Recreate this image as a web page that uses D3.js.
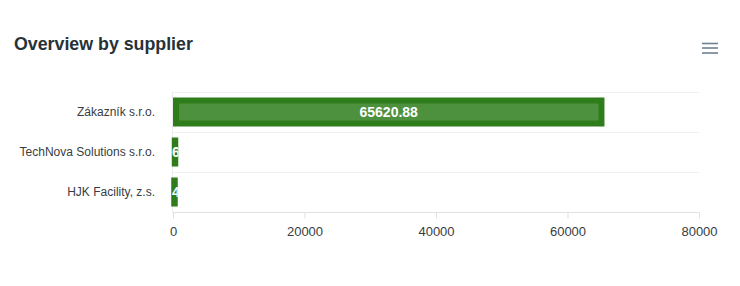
<!DOCTYPE html>
<html>
<head>
<meta charset="utf-8">
<script src="https://cdn.jsdelivr.net/npm/d3@7"></script>
<style>
  body { margin: 0; background: #fff; }
  text { font-family: "Liberation Sans", Arial, Helvetica, sans-serif; }
</style>
</head>
<body>
<svg id="chart" width="740" height="286"></svg>
<script>
var suppliers = ['Zákazník s.r.o.', 'TechNova Solutions s.r.o.', 'HJK Facility, z.s.'];
var amounts = [65620.88, 612.40, 455.00];
var tickValues = [0, 20000, 40000, 60000, 80000];

var width = 740,
    height = 286,
    margin = { top: 92, right: 41, bottom: 74, left: 173 };

var svg = d3.select('#chart');

var x = d3.scaleLinear()
  .domain([0, 80000])
  .range([margin.left, width - margin.right]);

var y = d3.scaleBand()
  .domain(suppliers)
  .range([margin.top, height - margin.bottom])
  .paddingInner(0.275)
  .paddingOuter(0.1375);

var step = y.step();
var border = 6;

// title + menu icon
svg.append('text')
  .attr('x', 14)
  .attr('y', 50)
  .attr('font-size', 17.8)
  .attr('font-weight', 'bold')
  .attr('fill', '#263238')
  .text('Overview by supplier');

svg.selectAll('line.menu')
  .data([43.5, 48, 53])
  .enter()
  .append('line')
  .attr('class', 'menu')
  .attr('x1', 702).attr('x2', 718)
  .attr('y1', function(d) { return d; })
  .attr('y2', function(d) { return d; })
  .attr('stroke', '#6e8192')
  .attr('stroke-width', 1.6);

// row grid lines
var rowLines = d3.range(suppliers.length).map(function(i) { return margin.top + i * step; });
svg.selectAll('line.grid')
  .data(rowLines)
  .enter()
  .append('line')
  .attr('class', 'grid')
  .attr('x1', x(0)).attr('x2', x(80000))
  .attr('y1', function(d) { return d + 0.5; })
  .attr('y2', function(d) { return d + 0.5; })
  .attr('stroke', '#f1f1f1');

svg.append('line')
  .attr('x1', x(0) - 0.5).attr('x2', x(0) - 0.5)
  .attr('y1', margin.top).attr('y2', height - margin.bottom)
  .attr('stroke', '#ececec');

// x axis
var xAxis = d3.axisBottom(x)
  .tickValues(tickValues)
  .tickSize(6)
  .tickPadding(8)
  .tickFormat(d3.format('d'));

var axisG = svg.append('g')
  .attr('transform', 'translate(0,' + (height - margin.bottom + 0.5) + ')')
  .call(xAxis);
axisG.select('.domain').attr('stroke', '#e0e0e0').attr('d', 'M' + (x(0) - 0.5) + ',0H' + x(80000));
axisG.selectAll('.tick line').attr('stroke', '#e0e0e0');
axisG.selectAll('.tick text')
  .attr('font-size', 13)
  .attr('font-family', '"Liberation Sans", Arial, sans-serif')
  .attr('fill', '#373d3f');

// category labels
svg.selectAll('text.cat')
  .data(suppliers)
  .enter()
  .append('text')
  .attr('class', 'cat')
  .attr('x', 155)
  .attr('y', function(d) { return y(d) + y.bandwidth() / 2; })
  .attr('dy', '0.35em')
  .attr('text-anchor', 'end')
  .attr('font-size', 12)
  .attr('fill', '#373d3f')
  .text(function(d) { return d; });

// bars
var data = suppliers.map(function(s, i) { return { name: s, value: amounts[i], i: i }; });

function barBox(d) {
  var x0 = x(0), x1 = x(d.value);
  var w = x1 - x0;
  var inner = Math.max(w - border, 0.5);
  var left = w >= border ? x0 + border / 2 : x0 + w / 2 - inner / 2;
  return { left: left, inner: inner, top: y(d.name) + border / 2, h: y.bandwidth() - border };
}

var defs = svg.append('defs');
defs.selectAll('clipPath')
  .data(data)
  .enter()
  .append('clipPath')
  .attr('id', function(d) { return 'clip' + d.i; })
  .append('rect')
  .attr('x', function(d) { var b = barBox(d); return b.left - border / 2; })
  .attr('y', function(d) { return y(d.name); })
  .attr('width', function(d) { var b = barBox(d); return b.inner + border; })
  .attr('height', y.bandwidth());

svg.selectAll('rect.bar')
  .data(data)
  .enter()
  .append('rect')
  .attr('class', 'bar')
  .attr('x', function(d) { return barBox(d).left; })
  .attr('y', function(d) { return barBox(d).top; })
  .attr('width', function(d) { return barBox(d).inner; })
  .attr('height', function(d) { return barBox(d).h; })
  .attr('fill', '#4d913f')
  .attr('stroke', '#2f7d1a')
  .attr('stroke-width', border);

// value labels, clipped to each bar
svg.selectAll('text.val')
  .data(data)
  .enter()
  .append('text')
  .attr('class', 'val')
  .attr('clip-path', function(d) { return 'url(#clip' + d.i + ')'; })
  .attr('x', function(d) {
    var w = x(d.value) - x(0);
    return w > 80 ? x(0) + w / 2 : x(0) - 1;
  })
  .attr('text-anchor', function(d) { return x(d.value) - x(0) > 80 ? 'middle' : 'start'; })
  .attr('y', function(d) { return y(d.name) + y.bandwidth() / 2; })
  .attr('dy', '0.36em')
  .attr('font-size', 14)
  .attr('font-weight', 'bold')
  .attr('fill', '#fff')
  .text(function(d) { return d3.format('.2f')(d.value); });
</script>
</body>
</html>
